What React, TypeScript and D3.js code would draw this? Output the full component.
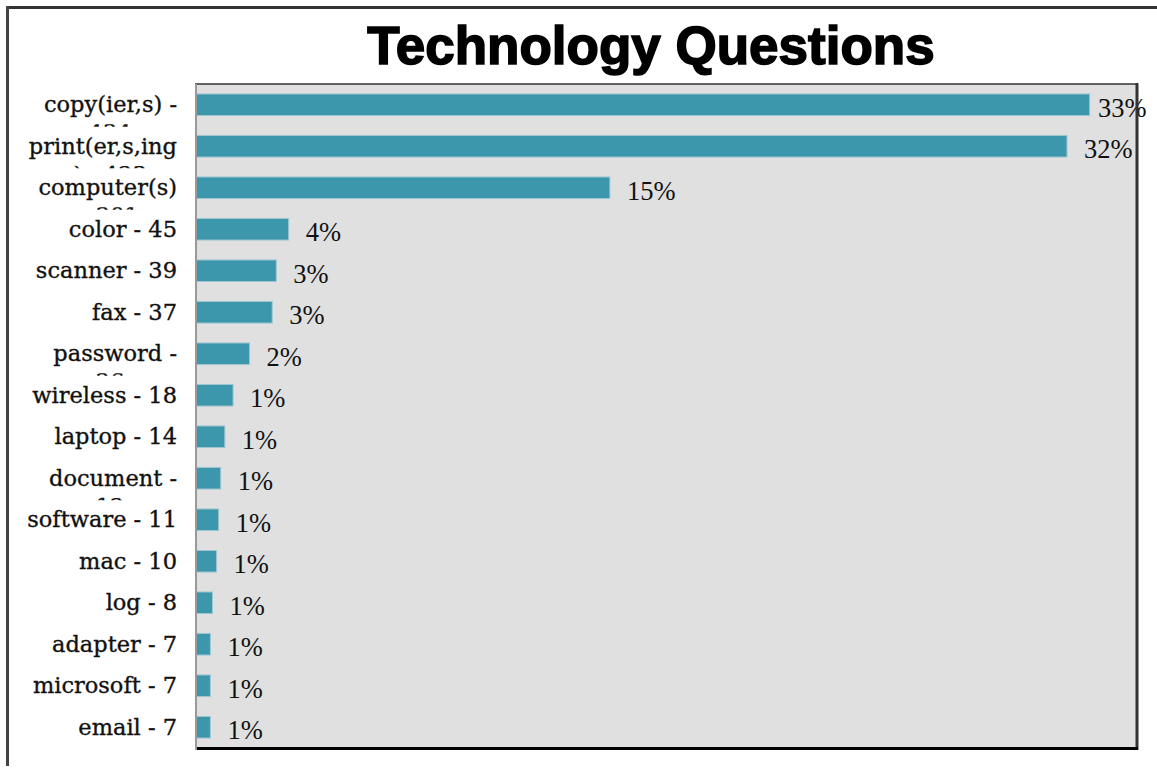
import React from "react";
import * as d3 from "d3";

const categories = [
  "copy", "print", "computer", "color", "scanner", "fax", "password", "wireless",
  "laptop", "document", "software", "mac", "log", "adapter", "microsoft", "email",
];
const counts = [434, 423, 201, 45, 39, 37, 26, 18, 14, 12, 11, 10, 8, 7, 7, 7];
const percentLabels = [
  "33%", "32%", "15%", "4%", "3%", "3%", "2%", "1%",
  "1%", "1%", "1%", "1%", "1%", "1%", "1%", "1%",
];
const tickLines: string[][] = [
  ["copy(ier,s) -", "434"],
  ["print(er,s,ing", ") - 423"],
  ["computer(s)", "- 201"],
  ["color - 45"],
  ["scanner - 39"],
  ["fax - 37"],
  ["password -", "26"],
  ["wireless - 18"],
  ["laptop - 14"],
  ["document -", "12"],
  ["software - 11"],
  ["mac - 10"],
  ["log - 8"],
  ["adapter - 7"],
  ["microsoft - 7"],
  ["email - 7"],
];
const titleText = "Technology Questions";

const W = 1157;
const H = 778;
const plot = { left: 196, right: 1137, top: 84, bottom: 748 };

export default function App() {
  const x = d3.scaleLinear().domain([0, 457]).range([plot.left, plot.right]);
  const y = d3
    .scaleBand<string>()
    .domain(categories)
    .range([plot.top, plot.bottom])
    .paddingInner(0.48)
    .paddingOuter(0.24);
  const bw = y.bandwidth();

  return (
    <svg
      width={W}
      height={H}
      style={{ position: "absolute", left: 0, top: 0, background: "#fff" }}
    >
      <defs>
        {categories.map((c) => {
          const cy = (y(c) as number) + bw / 2;
          return (
            <clipPath id={`clip-${c}`} key={c}>
              <rect x={0} y={cy + 19.5} width={190} height={2.5} />
            </clipPath>
          );
        })}
      </defs>
      {/* outer frame */}
      <line x1={6} x2={W} y1={7.5} y2={7.5} stroke="#333" strokeWidth={3} />
      <line x1={7.5} x2={7.5} y1={6} y2={766} stroke="#444" strokeWidth={3} />

      {/* title */}
      <text
        x={651}
        y={64}
        textAnchor="middle"
        fontFamily="Liberation Sans, Arial, sans-serif"
        fontWeight="bold"
        fontSize={53}
        fill="#000"
        stroke="#000"
        strokeWidth={1.6}
      >
        {titleText}
      </text>

      {/* plot background */}
      <rect
        x={plot.left}
        y={plot.top}
        width={plot.right - plot.left}
        height={plot.bottom - plot.top}
        fill="#e0e0e0"
      />

      {/* bars */}
      {categories.map((c, i) => (
        <rect
          key={c}
          x={x(0)}
          y={y(c) as number}
          width={x(counts[i]) - x(0)}
          height={bw}
          fill="#3d97ac"
          stroke="#9fc7d2"
          strokeWidth={1}
        />
      ))}

      {/* percent labels */}
      {categories.map((c, i) => (
        <text
          key={c}
          x={Math.min(x(counts[i]) + 17, plot.right - 39)}
          y={(y(c) as number) + bw / 2 + 12}
          fontFamily="Liberation Serif, Times New Roman, serif"
          fontSize={26.5}
          fill="#111"
        >
          {percentLabels[i]}
        </text>
      ))}

      {/* plot borders */}
      <line x1={plot.left - 1} x2={plot.right + 1} y1={plot.top} y2={plot.top} stroke="#333" strokeWidth={1.5} />
      <line x1={plot.right} x2={plot.right} y1={plot.top - 1} y2={plot.bottom + 2} stroke="#333" strokeWidth={3} />
      <line x1={plot.left - 1} x2={plot.right + 1} y1={plot.bottom + 0.5} y2={plot.bottom + 0.5} stroke="#000" strokeWidth={3} />
      <line x1={plot.left} x2={plot.left} y1={plot.top} y2={plot.bottom + 2} stroke="#999" strokeWidth={2} />

      {/* category axis labels */}
      {categories.map((c, i) => {
        const cy = (y(c) as number) + bw / 2;
        const lines = tickLines[i];
        return (
          <g
            key={c}
            fontFamily="DejaVu Serif, serif"
            fontSize={22.5}
            fill="#111"
            stroke="#111"
            strokeWidth={0.35}
          >
            <text x={177} y={cy + 7.5} textAnchor="end">
              {lines[0]}
            </text>
            {lines.length > 1 && (
              <text
                x={110}
                y={cy + 7.5 + 28}
                textAnchor="middle"
                clipPath={`url(#clip-${c})`}
              >
                {lines[1]}
              </text>
            )}
          </g>
        );
      })}
    </svg>
  );
}
